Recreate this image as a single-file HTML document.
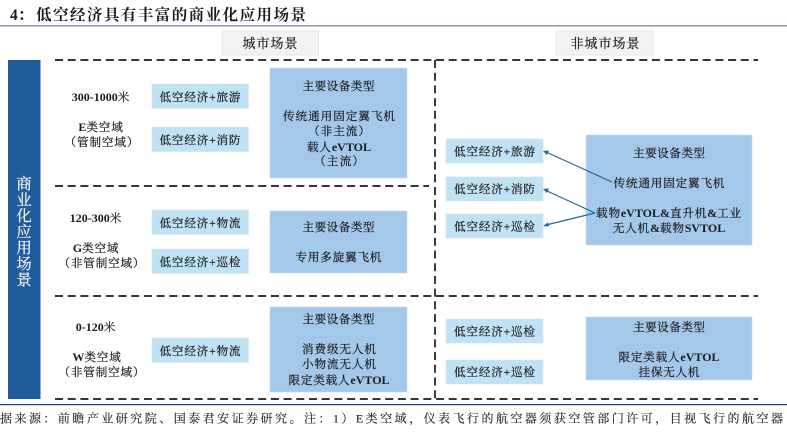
<!DOCTYPE html>
<html><head><meta charset="utf-8">
<style>
html,body{margin:0;padding:0;background:#fff;width:787px;height:436px;overflow:hidden}
svg{display:block;filter:blur(.3px)}
text{font-family:"Liberation Serif","Noto Serif CJK SC",serif;fill:#1c1c1c;font-size:11.600px;text-anchor:middle;stroke:#1c1c1c;stroke-width:.22px}
.b{font-weight:bold;stroke:none;font-size:12px}
.c{letter-spacing:.8px}
.v{font-size:15.500px;fill:#fff;stroke:#fff;stroke-width:.15px}
.h{font-size:13px}
.t{font-size:15.500px;font-weight:bold;text-anchor:start;stroke:none}
.f{font-size:12px;text-anchor:start;stroke-width:.12px}
</style></head><body>
<svg width="787" height="436" viewBox="0 0 787 436" xmlns="http://www.w3.org/2000/svg">
<text x="10" y="20" class="t">4&#xFF1A;</text>
<text x="36" y="20" class="t" textLength="270" lengthAdjust="spacing">低空经济具有丰富的商业化应用场景</text>
<rect x="0" y="25" width="787" height="1.5" fill="#8a9ab8"/>
<rect x="0" y="404" width="787" height="1.2" fill="#1f3f7a"/>

<rect x="222" y="31" width="96.500" height="24" fill="#f2f2f2" stroke="#e2e2e2" stroke-width="0.7"/>
<text x="270" y="48" class="h" textLength="55" lengthAdjust="spacing">城市场景</text>
<rect x="556" y="31" width="97" height="24" fill="#f2f2f2" stroke="#e2e2e2" stroke-width="0.7"/>
<text x="605" y="48" class="h" textLength="69" lengthAdjust="spacing">非城市场景</text>

<rect x="8" y="60" width="32.500" height="339" fill="#1f5c99"/>
<text x="24" y="189" class="v">商</text>
<text x="24" y="205" class="v">业</text>
<text x="24" y="221" class="v">化</text>
<text x="24" y="237" class="v">应</text>
<text x="24" y="253" class="v">用</text>
<text x="24" y="269" class="v">场</text>
<text x="24" y="285" class="v">景</text>

<g stroke="#1a1a1a" stroke-width="1.700" stroke-dasharray="8 4.700" fill="none">
<path d="M55 60H758"/>
<path d="M55 186H429"/>
<path d="M55 296H758"/>
<path d="M55 399H758"/>
<path d="M435 60V399"/>
</g>

<g fill="#bfe2f4" stroke="#d8e4ea" stroke-width="0.600">
<rect x="152" y="84" width="96.500" height="24.500"/>
<rect x="152" y="127" width="96.500" height="24.500"/>
<rect x="152" y="210" width="96.500" height="24.500"/>
<rect x="152" y="249" width="96.500" height="24.500"/>
<rect x="152" y="338" width="96.500" height="24.500"/>
<rect x="446" y="139" width="97" height="24"/>
<rect x="446" y="177" width="97" height="24"/>
<rect x="446" y="214" width="97" height="24"/>
<rect x="446" y="319" width="97" height="24"/>
<rect x="446" y="360" width="97" height="24"/>
</g>
<g fill="#a4c8ea" stroke="#c9dcee" stroke-width="0.600">
<rect x="270" y="68" width="137" height="110"/>
<rect x="270" y="211" width="137" height="62"/>
<rect x="270" y="307" width="137" height="85"/>
<rect x="586" y="135" width="166" height="110"/>
<rect x="586" y="317" width="166" height="63"/>
</g>

<g>
<text x="200" y="101" textLength="81" lengthAdjust="spacing">低空经济+旅游</text>
<text x="200" y="144" textLength="81" lengthAdjust="spacing">低空经济+消防</text>
<text x="200" y="227" textLength="81" lengthAdjust="spacing">低空经济+物流</text>
<text x="200" y="266" textLength="81" lengthAdjust="spacing">低空经济+巡检</text>
<text x="200" y="355" textLength="81" lengthAdjust="spacing">低空经济+物流</text>
<text x="494.500" y="155.500" textLength="81" lengthAdjust="spacing">低空经济+旅游</text>
<text x="494.500" y="193" textLength="81" lengthAdjust="spacing">低空经济+消防</text>
<text x="494.500" y="230.500" textLength="81" lengthAdjust="spacing">低空经济+巡检</text>
<text x="494.500" y="335.500" textLength="81" lengthAdjust="spacing">低空经济+巡检</text>
<text x="494.500" y="376" textLength="81" lengthAdjust="spacing">低空经济+巡检</text>
</g>

<g>
<text x="101" y="101"><tspan class="b">300-1000</tspan><tspan class="c">米</tspan></text>
<text x="101" y="131"><tspan class="b">E</tspan><tspan class="c">类空域</tspan></text>
<text x="101.500" y="146" textLength="74" lengthAdjust="spacing">&#xFF08;管制空域&#xFF09;</text>
<text x="96" y="222"><tspan class="b">120-300</tspan><tspan class="c">米</tspan></text>
<text x="96" y="252"><tspan class="b">G</tspan><tspan class="c">类空域</tspan></text>
<text x="101.500" y="267" textLength="86" lengthAdjust="spacing">&#xFF08;非管制空域&#xFF09;</text>
<text x="96" y="331"><tspan class="b">0-120</tspan><tspan class="c">米</tspan></text>
<text x="97" y="361"><tspan class="b">W</tspan><tspan class="c">类空域</tspan></text>
<text x="101.500" y="376" textLength="86" lengthAdjust="spacing">&#xFF08;非管制空域&#xFF09;</text>
</g>

<g>
<text x="338.500" y="90" textLength="72" lengthAdjust="spacing">主要设备类型</text>
<text x="339" y="120" textLength="112" lengthAdjust="spacing">传统通用固定翼飞机</text>
<text x="339" y="135" textLength="62" lengthAdjust="spacing">&#xFF08;非主流&#xFF09;</text>
<text x="339" y="151"><tspan class="c">载人</tspan><tspan class="b">eVTOL</tspan></text>
<text x="339" y="165" textLength="50" lengthAdjust="spacing">&#xFF08;主流&#xFF09;</text>
<text x="338.500" y="231" textLength="72" lengthAdjust="spacing">主要设备类型</text>
<text x="338.500" y="261" textLength="86" lengthAdjust="spacing">专用多旋翼飞机</text>
<text x="338.500" y="323" textLength="72" lengthAdjust="spacing">主要设备类型</text>
<text x="339" y="353" textLength="74" lengthAdjust="spacing">消费级无人机</text>
<text x="339" y="368" textLength="74" lengthAdjust="spacing">小物流无人机</text>
<text x="339" y="384"><tspan class="c">限定类载人</tspan><tspan class="b">eVTOL</tspan></text>
<text x="669" y="157" textLength="72" lengthAdjust="spacing">主要设备类型</text>
<text x="669" y="187" textLength="111" lengthAdjust="spacing">传统通用固定翼飞机</text>
<text x="669" y="217"><tspan class="c">载物</tspan><tspan class="b">eVTOL&amp;</tspan><tspan class="c">直升机</tspan><tspan class="b">&amp;</tspan><tspan class="c">工业</tspan></text>
<text x="669" y="232"><tspan class="c">无人机</tspan><tspan class="b">&amp;</tspan><tspan class="c">载物</tspan><tspan class="b">SVTOL</tspan></text>
<text x="669" y="331" textLength="72" lengthAdjust="spacing">主要设备类型</text>
<text x="669" y="361"><tspan class="c">限定类载人</tspan><tspan class="b">eVTOL</tspan></text>
<text x="669" y="376" textLength="61" lengthAdjust="spacing">挂保无人机</text>
</g>

<g stroke="#1f6b8e" stroke-width="1.200" fill="none">
<path d="M612 182L546 152"/>
<path d="M595 213L546 190.500"/>
<path d="M595 213L546 225"/>
</g>
<g fill="#1f6b8e">
<path d="M543 151L549 150.500L547 155Z"/>
<path d="M543 189L549 188.500L547 193Z"/>
<path d="M543 226L548 222.500L549 226.500Z"/>
</g>

<text x="0" y="422.500" class="f" textLength="783" lengthAdjust="spacing">据来源&#xFF1A;前瞻产业研究院、国泰君安证券研究。注&#xFF1A;1&#xFF09;E类空域&#xFF0C;仪表飞行的航空器须获空管部门许可&#xFF0C;目视飞行的航空器</text>
</svg>
</body></html>
